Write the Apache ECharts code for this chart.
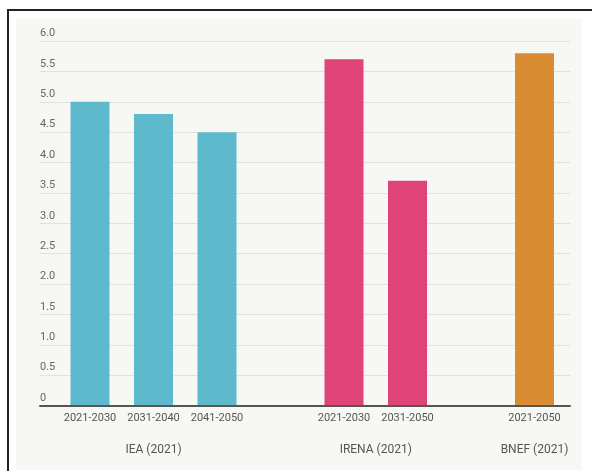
<!DOCTYPE html>
<html>
<head>
<meta charset="utf-8">
<script src="https://cdn.jsdelivr.net/npm/echarts@6/dist/echarts.min.js"></script>
<style>
  html, body { margin:0; padding:0; background:#ffffff; }
  #wrap { position:relative; width:592px; height:471px; overflow:hidden; }
  #frame { position:absolute; left:7px; top:9px; width:600px; height:480px;
           border-top:2px solid #222; border-left:2px solid #222; box-sizing:border-box; }
  #panel { position:absolute; left:16px; top:19px; width:566px; height:451px; background:#f7f7f4; }
  #chart { position:absolute; left:0; top:0; width:592px; height:471px; }
</style>
</head>
<body>
<div id="wrap">
  <div id="frame"></div>
  <div id="panel"></div>
  <div id="chart"></div>
</div>
<script>
// ---- data ----
var periods = ['2021-2030', '2031-2040', '2041-2050', '', '2021-2030', '2031-2050', '', '2021-2050'];
var ieaValues   = [5.0, 4.8, 4.5, null, null, null, null, null];
var irenaValues = [null, null, null, null, 5.7, 3.7, null, null];
var bnefValues  = [null, null, null, null, null, null, null, 5.8];
var groupNames  = ['IEA (2021)', 'IRENA (2021)', 'BNEF (2021)'];
var groupSlots  = [[0, 1, 2], [4, 5], [7]];
var yTicks = [0, 0.5, 1.0, 1.5, 2.0, 2.5, 3.0, 3.5, 4.0, 4.5, 5.0, 5.5, 6.0];

// group label positions (slot centres on a 0..N value scale)
var groupPos = groupSlots.map(function (s) {
  var sum = 0; s.forEach(function (k) { sum += k + 0.5; }); return sum / s.length;
});
function groupLabel(v) {
  for (var i = 0; i < groupPos.length; i++) if (Math.abs(groupPos[i] - v) < 1e-6) return groupNames[i];
  return '';
}

var chart = echarts.init(document.getElementById('chart'), null, { renderer: 'canvas' });
var gridTop = 41, gridBottom = 65.5;
var option = {
  backgroundColor: 'transparent',
  animation: false,
  grid: [
    { left: 40, right: 22, top: gridTop, bottom: gridBottom },
    { left: 58.25, right: 25.75, top: gridTop, bottom: gridBottom }
  ],
  xAxis: [
    { type: 'category', gridIndex: 0, data: [''], z: 5,
      axisLine: { show: true, lineStyle: { color: '#555', width: 2 } },
      axisTick: { show: false }, axisLabel: { show: false }, splitLine: { show: false } },
    { type: 'category', gridIndex: 1, data: periods,
      axisLine: { show: false }, axisTick: { show: false },
      axisLabel: { interval: 0, margin: 7, color: '#555', fontFamily: 'Roboto', fontSize: 11 } },
    { type: 'value', gridIndex: 1, min: 0, max: periods.length, position: 'bottom',
      axisLine: { show: false }, axisTick: { show: false }, splitLine: { show: false },
      axisLabel: { customValues: groupPos, margin: 38, color: '#555', fontFamily: 'Roboto', fontSize: 12,
                   formatter: function (v) { return groupLabel(v); } } }
  ],
  yAxis: [
    { type: 'value', gridIndex: 0, min: yTicks[0], max: yTicks[yTicks.length - 1], interval: 0.5,
      axisLine: { show: false }, axisTick: { show: false },
      splitLine: { show: true, lineStyle: { color: '#e2e2dd', width: 1 } },
      axisLabel: { inside: false, margin: 0, align: 'left', verticalAlign: 'bottom',
                   padding: [0, 0, 2, 0], color: '#666', fontFamily: 'Roboto', fontSize: 11,
                   formatter: function (v) { return v === 0 ? '0' : v.toFixed(1); } } },
    { type: 'value', gridIndex: 1, min: yTicks[0], max: yTicks[yTicks.length - 1], show: false, splitLine: { show: false } }
  ],
  series: [
    { name: 'IEA', type: 'bar', xAxisIndex: 1, yAxisIndex: 1, stack: 'all', barWidth: 39,
      itemStyle: { color: '#5fb9cd' }, data: ieaValues },
    { name: 'IRENA', type: 'bar', xAxisIndex: 1, yAxisIndex: 1, stack: 'all', barWidth: 39,
      itemStyle: { color: '#e04378' }, data: irenaValues },
    { name: 'BNEF', type: 'bar', xAxisIndex: 1, yAxisIndex: 1, stack: 'all', barWidth: 39,
      itemStyle: { color: '#da8c33' }, data: bnefValues }
  ]
};
chart.setOption(option);
</script>
</body>
</html>
